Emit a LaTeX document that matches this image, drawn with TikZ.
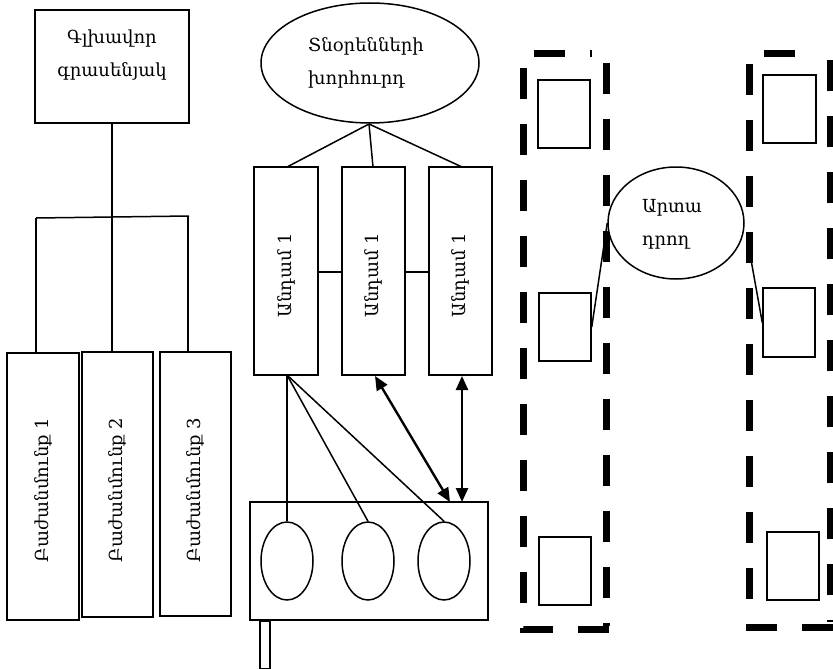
\documentclass[tikz,border=0pt]{standalone}
\usepackage{fontspec}
\setmainfont{DejaVu Serif}
\usetikzlibrary{shapes.geometric,arrows.meta}
\begin{document}
\begin{tikzpicture}[x=1pt,y=-1pt,
  box/.style={draw,line width=1.5pt,inner sep=0pt},
  oval/.style={draw,ellipse,line width=1.5pt,inner sep=0pt},
  txt/.style={font=\fontsize{18}{33}\selectfont,align=left,inner sep=0pt},
  vtxt/.style={font=\fontsize{18}{20}\selectfont,rotate=90,inner sep=0pt},
  link/.style={line width=1.5pt},
  dbl/.style={line width=2.4pt,{Triangle[length=14pt,width=12pt]}-{Triangle[length=14pt,width=12pt]}},
  dashbox/.style={line width=7pt,dash pattern=on 31pt off 25pt}]
\useasboundingbox (0,0) rectangle (833,669);

% head office and departments
\node[box,minimum width=154pt,minimum height=113pt] (hq) at (112,66.5) {};
\node[txt,align=center] (hqt) at (112,55) {Գլխավոր\\գրասենյակ};
\node[box,minimum width=72pt,minimum height=267pt] (d1) at (43,486.5) {};
\node[box,minimum width=71pt,minimum height=265pt] (d2) at (117.5,484.5) {};
\node[box,minimum width=71pt,minimum height=264pt] (d3) at (195.5,484) {};
\node[vtxt] (d1t) at (43,490) {Բաժանմունք 1};
\node[vtxt] (d2t) at (117.5,490) {Բաժանմունք 2};
\node[vtxt] (d3t) at (195.5,490) {Բաժանմունք 3};
\coordinate (j0) at (112,217);
\coordinate (j1) at (36,218);
\coordinate (j3) at (189,216);
\coordinate (j2) at (112,217);
\draw[link] (hq.south) -- (j0);
\draw[link] (j1) -- (j3);
\draw[link] (j1) -- (j1 |- d1.north);
\draw[link] (j2) -- (j2 |- d2.north);
\draw[link] (188,216) -- (188,352);

% board and members
\node[oval,minimum width=218pt,minimum height=120pt] (board) at (370,63) {};
\node[txt] (boardt) at (366,63) {Տնօրենների\\խորհուրդ};
\node[box,minimum width=64pt,minimum height=208pt] (m1) at (286,271) {};
\node[box,minimum width=63pt,minimum height=208pt] (m2) at (373.5,271) {};
\node[box,minimum width=63pt,minimum height=208pt] (m3) at (460.5,271) {};
\node[vtxt] (m1t) at (286,275) {Անդամ 1};
\node[vtxt] (m2t) at (373.5,275) {Անդամ 1};
\node[vtxt] (m3t) at (460.5,275) {Անդամ 1};
\coordinate (bj) at (369,124);
\draw[link] (bj) -- (287,167);
\draw[link] (bj) -- (373,167);
\draw[link] (bj) -- (462,167);
\draw[link] (m1.east |- 0,272) -- (m2.west |- 0,272);
\draw[link] (m2.east |- 0,272) -- (m3.west |- 0,272);

% storage block
\node[box,minimum width=238pt,minimum height=118pt] (store) at (369,561) {};
\node[oval,minimum width=52pt,minimum height=78pt] (e1) at (287,561) {};
\node[oval,minimum width=52pt,minimum height=78pt] (e2) at (368,561) {};
\node[oval,minimum width=52pt,minimum height=78pt] (e3) at (444,561) {};
\node[box,minimum width=10pt,minimum height=48pt,anchor=north] (leg) at (265,620) {};
\coordinate (m1b) at (287,375);
\draw[link] (m1b) -- (e1.north);
\draw[link] (m1b) -- (e2.north);
\draw[link] (m1b) -- (e3.north);
\draw[dbl] (375,376) -- (450,502);
\draw[dbl] (462,376) -- (462,502);

% two dashed groups
\draw[dashbox] (609,629) -- (523,629) -- (523,54) -- (592,54);
\draw[dashbox] (606,63) -- (606,626);
\draw[dashbox] (833,627) -- (749,627) -- (749,54) -- (815,54);
\draw[dashbox] (830,60) -- (830,622);
\node[box,minimum width=52pt,minimum height=68pt] (l1) at (564,114) {};
\node[box,minimum width=52pt,minimum height=68pt] (l2) at (565,327) {};
\node[box,minimum width=52pt,minimum height=68pt] (l3) at (565,571) {};
\node[box,minimum width=53pt,minimum height=68pt] (r1) at (789.5,109) {};
\node[box,minimum width=52pt,minimum height=69pt] (r2) at (789,322.5) {};
\node[box,minimum width=52pt,minimum height=68pt] (r3) at (793,566) {};
\node[oval,fill=white,minimum width=136pt,minimum height=112pt] (prod) at (676,223) {};
\node[txt] (prodt) at (672,224) {Արտա\\դրող};
\draw[link] (prod.west) -- (l2.east);
\draw[link] (748,243) -- (r2.west);
\end{tikzpicture}
\end{document}
